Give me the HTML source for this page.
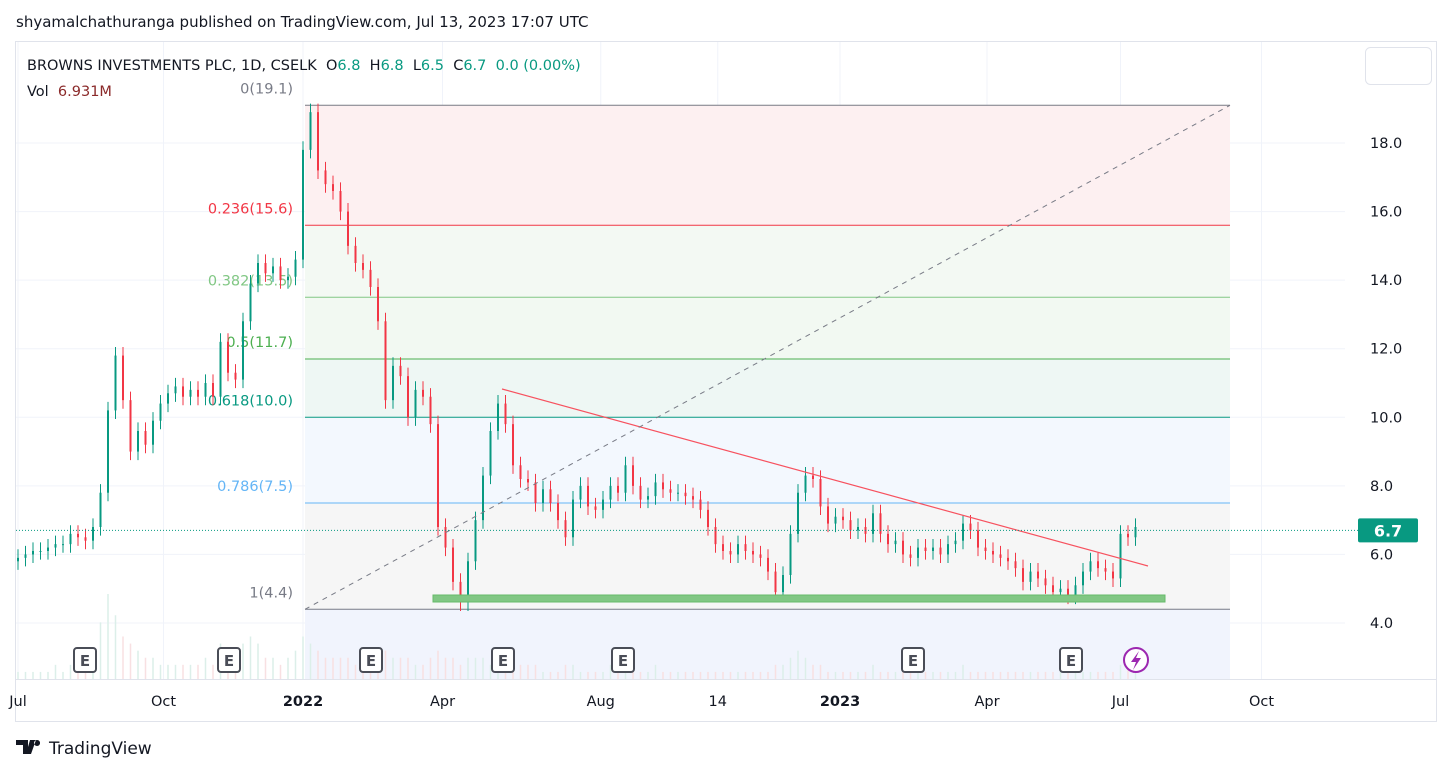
<!DOCTYPE html>
<html><head><meta charset="utf-8">
<style>
html,body{margin:0;padding:0;background:#fff;width:1452px;height:774px;overflow:hidden;font-family:"Liberation Sans","DejaVu Sans",sans-serif;}
svg text{font-family:"DejaVu Sans","Liberation Sans",sans-serif;white-space:pre;}
</style></head>
<body>
<svg id="chart" width="1452" height="774" xmlns="http://www.w3.org/2000/svg">
<text x="16" y="27" font-size="15" fill="#131722">shyamalchathuranga published on TradingView.com, Jul 13, 2023 17:07 UTC</text>
<rect x="15.5" y="41.5" width="1421" height="680" fill="none" stroke="#e0e3eb"/>
<g id="grid"></g>
<g id="fib"></g>
<g id="vol"></g>
<g id="candles"></g>
<g id="overlay"></g>
<g id="axes"></g>
<text x="27" y="70" font-size="14.5" fill="#131722" xml:space="preserve">BROWNS INVESTMENTS PLC, 1D, CSELK  O<tspan fill="#089981">6.8</tspan>  H<tspan fill="#089981">6.8</tspan>  L<tspan fill="#089981">6.5</tspan>  C<tspan fill="#089981">6.7</tspan>  <tspan fill="#089981">0.0 (0.00%)</tspan></text>
<text x="27" y="96" font-size="14.5" fill="#131722" xml:space="preserve">Vol  <tspan fill="#8b2a2a">6.931M</tspan></text>
<rect x="1365.5" y="47.5" width="66" height="37" rx="5" fill="#fff" stroke="#e0e3eb"/>
<g>
<path d="M16 740h12v14h-5v-9h-7z M30 740h6l-5 14h-5z M37 740 a3 3 0 1 0 0.1 0z" fill="#131722"/>
<text x="49" y="754" font-size="17" fill="#131722">TradingView</text>
</g>
</svg>
<script>
const priceTicks=[4,6,8,10,12,14,16,18];
const timeLabels=["Jul","Oct","2022","Apr","Aug","14","2023","Apr","Jul","Oct"];
const timeLabelIdx=[0,19.4,38,56.6,77.7,93.3,109.6,129.2,147,165.8];
const closes=[5.9,6.0,6.1,6.1,6.2,6.3,6.3,6.6,6.5,6.4,6.8,7.8,10.2,11.8,10.5,9.0,9.6,9.2,9.9,10.4,
10.7,10.9,10.6,10.8,10.6,11.0,10.6,12.2,11.3,11.1,12.8,13.9,14.5,14.2,14.4,14.0,14.1,14.6,17.8,18.9,
17.2,16.8,16.6,16.0,15.0,14.5,14.3,13.8,12.8,10.5,11.5,11.2,10.0,10.8,10.6,9.8,6.8,6.2,5.2,4.6,
5.8,7.0,8.3,9.6,10.4,9.8,8.6,8.2,8.1,7.5,7.9,7.5,7.0,6.5,7.6,8.0,7.4,7.3,7.6,8.0,
7.8,8.6,8.0,7.6,7.7,8.1,7.9,7.8,7.8,7.7,7.6,7.3,6.8,6.3,6.1,6.0,6.3,6.1,6.0,5.9,
5.5,4.9,5.4,6.6,7.8,8.3,8.2,7.4,6.9,7.1,7.0,6.7,6.8,6.6,7.2,6.6,6.3,6.4,6.0,5.9,
6.2,6.1,6.2,6.0,6.3,6.4,6.9,6.7,6.2,6.1,6.0,5.9,5.8,5.6,5.2,5.5,5.3,5.1,4.9,5.0,
4.8,5.1,5.5,5.8,5.6,5.5,5.3,6.6,6.5,6.8];
const volumes=[1,1,1,1,1,2,1,2,2,2,3,8,12,9,6,5,4,3,3,2,2,2,2,2,2,3,2,5,4,3,5,6,5,3,3,2,3,4,6,5,
4,3,3,3,3,2,3,3,3,4,3,3,3,2,2,3,4,3,3,2,3,3,3,2,2,2,2,2,2,2,1,1,1,2,2,1,1,1,1,2,
3,2,2,1,1,2,1,1,1,1,1,1,1,1,1,1,1,1,1,1,1,2,2,3,4,3,2,2,1,1,1,1,1,1,2,1,1,1,1,1,
1,1,1,1,1,1,2,1,1,1,1,1,1,1,1,1,1,1,1,1,1,1,1,1,1,1,1,2,2,2];
const fibLevels=[0,0.236,0.382,0.5,0.618,0.786,1];
const fibPrices=[19.1,15.6,13.5,11.7,10.0,7.5,4.4];
const lastPrice=6.7;

const NS="http://www.w3.org/2000/svg";
const y=p=>623-(p-4)*34.2857;
const x=i=>18+i*7.5;
function mk(tag,attrs,parent){const e=document.createElementNS(NS,tag);for(const k in attrs)e.setAttribute(k,attrs[k]);parent.appendChild(e);return e;}
const G=id=>document.getElementById(id);

priceTicks.forEach(p=>{const l=mk('line',{x1:16,x2:1345,y1:y(p),y2:y(p),stroke:'#f0f3fa'},G('grid'));

});
timeLabelIdx.forEach(i=>{const l=mk('line',{x1:x(i),x2:x(i),y1:42,y2:679,stroke:'#f0f3fa'},G('grid'));

});

const fx1=305,fx2=1230;
const bandFill=['#fdf0f1','#f3f9f3','#f2f9f2','#eef7f4','#f3f8fe','#f6f6f6'];
const lineCol=['#787b86','#f23645','#81c784','#4caf50','#089981','#64b5f6','#787b86'];
for(let k=0;k<fibPrices.length-1;k++){const r=mk('rect',{x:fx1,y:y(fibPrices[k]),width:fx2-fx1,height:y(fibPrices[k+1])-y(fibPrices[k]),fill:bandFill[k]},G('fib'));

}
const lb=mk('rect',{x:fx1,y:y(4.4),width:fx2-fx1,height:679-y(4.4),fill:'#f1f4fd'},G('fib'));


fibPrices.forEach((p,k)=>{const l=mk('line',{x1:fx1,x2:fx2,y1:y(p),y2:y(p),stroke:lineCol[k],'stroke-width':1},G('fib'));


const t=mk('text',{x:293,y:y(p)-12,'text-anchor':'end','font-size':14.5,fill:lineCol[k]},G('fib'));
t.textContent=fibLevels[k]+'('+p.toFixed(1)+')';

});

const vmax=12;
volumes.forEach((v,i)=>{const h=v/vmax*85;const up=i===0||closes[i]>=closes[i-1];
const r=mk('rect',{x:x(i)-0.75,y:679-h,width:1.5,height:h,fill:up?'#dcefe9':'#f8e0e2'},G('vol'));

});

closes.forEach((c,i)=>{const o=i===0?c-0.1:closes[i-1];const up=c>=o;const col=up?'#089981':'#f23645';
const hi=Math.max(o,c)+0.25,lo=Math.min(o,c)-0.25;
const w=mk('line',{x1:x(i),x2:x(i),y1:y(hi),y2:y(lo),stroke:col,'stroke-width':1},G('candles'));


const top=y(Math.max(o,c)),bh=Math.max(1,Math.abs(y(o)-y(c)));
const b=mk('rect',{x:x(i)-1,y:top,width:2,height:bh,fill:col},G('candles'));

});

const ov=G('overlay');
const sup=mk('rect',{x:433,y:595,width:732,height:7,fill:'#81c784',stroke:'#66bb6a'},ov);


const tl=mk('line',{x1:502,y1:389,x2:1148,y2:566,stroke:'#f7525f','stroke-width':1.2},ov);


const dg=mk('line',{x1:fx1,y1:y(4.4),x2:fx2,y2:y(19.1),stroke:'#787b86','stroke-width':1,'stroke-dasharray':'5,5'},ov);


const lp=mk('line',{x1:16,x2:1358,y1:y(lastPrice),y2:y(lastPrice),stroke:'#089981','stroke-dasharray':'1,2'},ov);


[85,229,371,503,623,913,1071].forEach(cx=>{const g=mk('g',{},ov);


mk('rect',{x:cx-11,y:648,width:22,height:24,rx:3,fill:'#fff',stroke:'#4a4d57','stroke-width':2},g);
const t=mk('text',{x:cx,y:666,'text-anchor':'middle','font-size':15,'font-weight':'bold',fill:'#4a4d57'},g);t.textContent='E';});
const lg=mk('g',{},ov);


mk('circle',{cx:1136,cy:660,r:12,fill:'#fff',stroke:'#9c27b0','stroke-width':2},lg);
mk('path',{d:'M1139 651 L1131 662 L1136 662 L1133 670 L1141 658 L1136 658 Z',fill:'#9c27b0'},lg);

const ax=G('axes');
mk('line',{x1:16,x2:1436,y1:679.5,y2:679.5,stroke:'#e0e3eb'},ax);
priceTicks.forEach(p=>{const t=mk('text',{x:1370,y:y(p)+5,'font-size':14.5,fill:'#131722'},ax);t.textContent=p.toFixed(1);

});
timeLabels.forEach((s,k)=>{const bold=(s==='2022'||s==='2023');const t=mk('text',{x:x(timeLabelIdx[k]),y:706,'text-anchor':'middle','font-size':14.5,'font-weight':bold?'bold':'normal',fill:'#131722'},ax);t.textContent=s;

});
const pb=mk('rect',{x:1358,y:y(lastPrice)-12,width:60,height:24,rx:2,fill:'#089981'},ax);


const pt=mk('text',{x:1388,y:y(lastPrice)+6,'text-anchor':'middle','font-size':16,'font-weight':'bold',fill:'#fff'},ax);pt.textContent=lastPrice.toFixed(1);
</script>
</body></html>
